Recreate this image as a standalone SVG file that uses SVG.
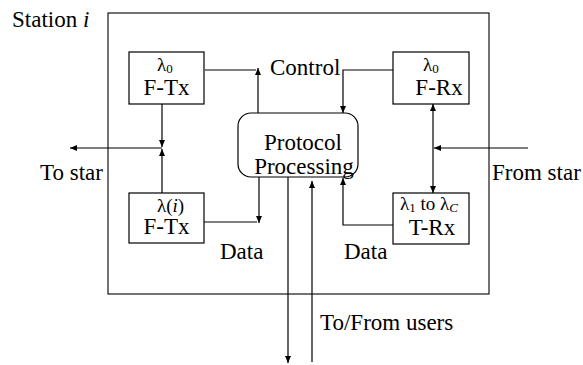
<svg xmlns="http://www.w3.org/2000/svg" width="583" height="365" viewBox="0 0 583 365">
  <style>
    .box { fill: #fff; stroke: #000; stroke-width: 1.2; }
    .frame { fill: none; stroke: #000; stroke-width: 1.1; }
    .ln { fill: none; stroke: #000; stroke-width: 1.2; }
    .t { font-size: 23px; fill: #000; }
    .lam { font-size: 19px; fill: #000; }
    .sub { font-size: 13px; }
    .it { font-style: italic; }
  </style>
  <defs>
    <marker id="arr" viewBox="0 0 7 6" refX="7" refY="3" markerWidth="7" markerHeight="6" markerUnits="userSpaceOnUse" orient="auto-start-reverse">
      <path d="M0,0 L7,3 L0,6 z" fill="#000"/>
    </marker>
  </defs>

  <rect id="background" x="0" y="0" width="583" height="365" fill="#fff"/>

  <!-- station frame -->
  <g id="station" font-family="Liberation Serif">
    <rect class="frame" x="108" y="13" width="381" height="281"/>
    <text class="t" font-family="Liberation Serif" x="12" y="27">Station <tspan class="it">i</tspan></text>
  </g>

  <!-- connectors -->
  <g id="connectors">
    <path class="ln" d="M205,70 H256"/>
    <path class="ln" d="M258,113 V68" marker-end="url(#arr)"/>
    <path class="ln" d="M393,70 H343 V113" marker-end="url(#arr)"/>
    <path class="ln" d="M162,104 V147" marker-end="url(#arr)"/>
    <path class="ln" d="M162,193 V149" marker-end="url(#arr)"/>
    <path class="ln" d="M162,148 H70" marker-end="url(#arr)"/>
    <path class="ln" d="M204,222 H257"/>
    <path class="ln" d="M259,177 V223" marker-end="url(#arr)"/>
    <path class="ln" d="M288,177 V363" marker-end="url(#arr)"/>
    <path class="ln" d="M312,362 V181" marker-end="url(#arr)"/>
    <path class="ln" d="M393,225 H343 V178" marker-end="url(#arr)"/>
    <path class="ln" d="M433,104 V193" marker-start="url(#arr)" marker-end="url(#arr)"/>
    <path class="ln" d="M528,148 H434" marker-end="url(#arr)"/>
  </g>

  <!-- control-channel transmitter -->
  <g id="ftx-control" font-family="Liberation Serif">
    <rect class="box" x="129" y="52" width="75" height="52"/>
    <text class="lam" font-family="Liberation Serif" x="157" y="71">λ<tspan class="sub" dy="2">0</tspan></text>
    <text class="t" font-family="Liberation Serif" x="166.5" y="95" text-anchor="middle">F-Tx</text>
  </g>

  <!-- data transmitter -->
  <g id="ftx-data" font-family="Liberation Serif">
    <rect class="box" x="129" y="193" width="75" height="50"/>
    <text class="lam" font-family="Liberation Serif" x="157" y="212">λ(<tspan class="it">i</tspan>)</text>
    <text class="t" font-family="Liberation Serif" x="166.5" y="234" text-anchor="middle">F-Tx</text>
  </g>

  <!-- control-channel receiver -->
  <g id="frx-control" font-family="Liberation Serif">
    <rect class="box" x="393" y="52" width="76" height="52"/>
    <text class="lam" font-family="Liberation Serif" x="423" y="71">λ<tspan class="sub" dy="2">0</tspan></text>
    <text class="t" font-family="Liberation Serif" x="439" y="95" text-anchor="middle">F-Rx</text>
  </g>

  <!-- tunable data receiver -->
  <g id="trx-data" font-family="Liberation Serif">
    <rect class="box" x="393" y="193" width="76" height="51"/>
    <text class="lam" font-family="Liberation Serif" x="400" y="210">λ<tspan class="sub" dy="2">1</tspan><tspan dy="-2"> to λ</tspan><tspan class="sub it" dy="2">C</tspan></text>
    <text class="t" font-family="Liberation Serif" x="432" y="235" text-anchor="middle">T-Rx</text>
  </g>

  <!-- protocol processor -->
  <g id="protocol" font-family="Liberation Serif">
    <rect class="box" x="238" y="113" width="120" height="64" rx="13" ry="13"/>
    <text class="t" font-family="Liberation Serif" x="303" y="150" text-anchor="middle">Protocol</text>
    <text class="t" font-family="Liberation Serif" x="304" y="174" text-anchor="middle">Processing</text>
  </g>

  <!-- labels -->
  <g id="labels" font-family="Liberation Serif">
    <text class="t" font-family="Liberation Serif" x="270" y="75">Control</text>
    <text class="t" font-family="Liberation Serif" x="220" y="259">Data</text>
    <text class="t" font-family="Liberation Serif" x="344" y="259">Data</text>
    <text class="t" font-family="Liberation Serif" x="40" y="180">To star</text>
    <text class="t" font-family="Liberation Serif" x="492" y="180">From star</text>
    <text class="t" font-family="Liberation Serif" x="320" y="330">To/From users</text>
  </g>
</svg>
